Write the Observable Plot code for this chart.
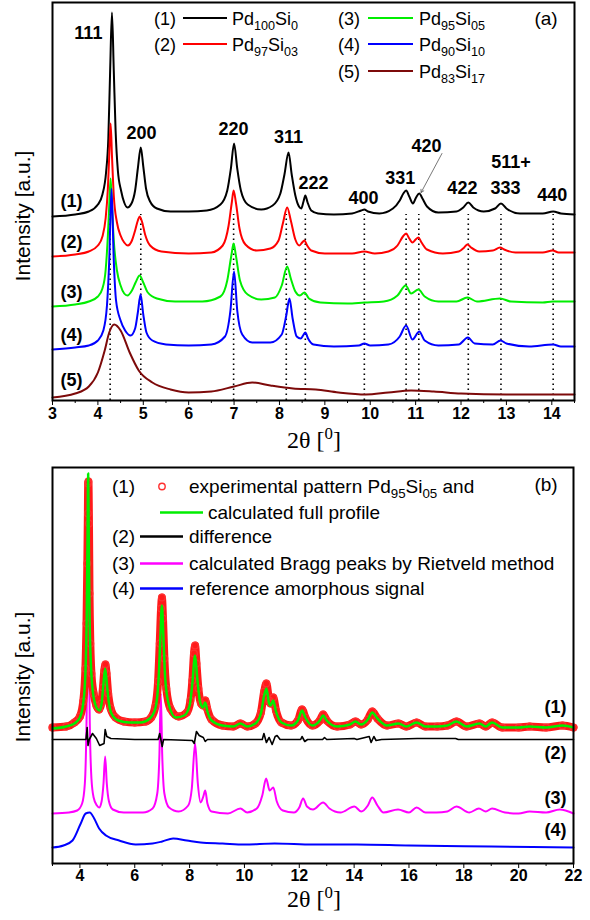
<!DOCTYPE html>
<html><head><meta charset="utf-8">
<script src="https://cdn.jsdelivr.net/npm/d3@7"></script>
<script src="https://cdn.jsdelivr.net/npm/@observablehq/plot@0.6"></script>
<style>body{margin:0;background:#fff}#wrap{width:590px}svg{display:block}</style>
</head><body><div id="wrap"></div>
<script>
// ---------- Panel (a) data: 2θ [deg], intensity [a.u.] ----------
const peakPosA = [4.27, 4.945, 6.99, 8.15, 8.57, 9.87, 10.79, 11.07, 12.16, 12.88, 14.03];
const hklA = ["111","200","220","311","222","400","331","420","422","511+","333","440"];
const majorA = [3,4,5,6,7,8,9,10,11,12,13,14];
const minorA = [3.5,4.5,5.5,6.5,7.5,8.5,9.5,10.5,11.5,12.5,13.5,14.5];
const pd100Si0 = [[3.0,184],[3.5,186],[3.8,189],[4.0,196],[4.1,206],[4.18,228],[4.23,262],[4.27,330],[4.31,388],[4.35,330],[4.39,270],[4.44,230],[4.51,210],[4.58,198],[4.65,193],[4.74,197],[4.82,210],[4.88,232],[4.945,253],[5.0,234],[5.06,212],[5.15,199],[5.3,192],[5.6,189],[6.0,189],[6.4,190],[6.7,196],[6.85,210],[6.93,232],[7.0,257],[7.07,232],[7.15,210],[7.3,196],[7.6,191],[7.85,195],[8.02,207],[8.11,226],[8.2,248],[8.27,226],[8.35,205],[8.43,194],[8.48,192],[8.53,199],[8.57,205],[8.62,198],[8.7,190],[8.85,187],[9.2,186],[9.6,187],[9.8,190],[9.87,191],[9.95,189],[10.2,187],[10.5,192],[10.65,200],[10.73,207],[10.79,210],[10.86,204],[10.94,197],[11.01,203],[11.08,207],[11.15,202],[11.25,194],[11.5,188],[11.9,189],[12.05,193],[12.16,198],[12.27,193],[12.5,189],[12.75,192],[12.88,197],[13.0,192],[13.3,187],[13.8,187],[14.03,189],[14.2,187],[14.5,186]];
const pd97Si03 = [[3.0,144],[3.5,146],[3.8,149],[4.0,155],[4.1,164],[4.17,182],[4.22,212],[4.25,245],[4.28,277],[4.31,245],[4.35,205],[4.42,178],[4.5,165],[4.58,158],[4.66,155],[4.75,160],[4.82,170],[4.88,180],[4.92,184],[4.97,179],[5.04,166],[5.15,155],[5.4,149],[6.0,147],[6.5,148],[6.75,155],[6.88,175],[6.95,198],[6.99,210],[7.04,198],[7.12,172],[7.25,156],[7.5,150],[7.8,152],[7.98,160],[8.08,178],[8.17,193],[8.25,180],[8.35,161],[8.44,155],[8.5,158],[8.55,160],[8.61,155],[8.7,150],[9.0,147],[9.6,147],[9.87,149],[10.1,147],[10.4,149],[10.6,155],[10.72,164],[10.79,167],[10.86,162],[10.93,158],[11.0,161],[11.06,163],[11.13,158],[11.25,151],[11.6,147],[11.95,149],[12.07,153],[12.14,156],[12.22,153],[12.4,149],[12.7,150],[12.86,153],[12.95,151],[13.2,148],[13.8,148],[14.02,150],[14.15,148],[14.5,148]];
const pd95Si05 = [[3.0,94],[3.5,96],[3.8,99],[4.0,104],[4.1,112],[4.17,130],[4.22,165],[4.25,195],[4.28,222],[4.31,195],[4.35,160],[4.42,130],[4.5,115],[4.58,107],[4.65,105],[4.75,110],[4.83,118],[4.92,125],[5.0,118],[5.1,108],[5.3,102],[5.7,99],[6.3,99],[6.7,104],[6.85,120],[6.94,145],[6.99,157],[7.04,145],[7.13,120],[7.3,106],[7.6,101],[7.9,103],[8.05,115],[8.17,134],[8.25,122],[8.35,109],[8.45,105],[8.55,108],[8.65,102],[8.9,98],[9.5,97],[9.87,98],[10.3,99],[10.6,105],[10.78,115],[10.9,107],[11.06,111],[11.2,104],[11.5,99],[11.9,99],[12.14,103],[12.35,99],[12.86,102],[13.1,99],[13.8,98],[14.02,99],[14.5,99]];
const pd90Si10 = [[3.0,51],[3.5,53],[3.8,55],[4.0,60],[4.12,70],[4.2,95],[4.25,140],[4.30,212],[4.35,140],[4.4,100],[4.5,80],[4.6,70],[4.72,65],[4.82,72],[4.88,88],[4.94,106],[5.0,86],[5.07,68],[5.2,60],[5.5,56],[6.0,55],[6.5,56],[6.8,64],[6.92,90],[7.0,129],[7.07,90],[7.18,66],[7.4,58],[7.8,58],[8.05,66],[8.15,85],[8.22,102],[8.29,82],[8.38,64],[8.47,62],[8.52,65],[8.57,68],[8.63,62],[8.75,56],[9.2,54],[9.75,55],[9.87,57],[10.0,55],[10.4,56],[10.65,64],[10.79,75],[10.93,61],[11.08,69],[11.2,60],[11.5,55],[11.95,56],[12.15,63],[12.3,57],[12.7,56],[12.87,60],[13.0,57],[13.5,54],[14.03,56],[14.2,54],[14.5,54]];
const pd83Si17 = [[3.0,3],[3.5,7],[3.8,14],[4.0,28],[4.15,50],[4.25,68],[4.36,76],[4.5,70],[4.7,48],[4.9,30],[5.2,18],[5.6,11],[6.0,8],[6.5,9],[7.0,14],[7.4,18],[7.8,15],[8.3,12],[8.8,11],[9.3,8],[9.9,6],[10.4,8],[10.9,10],[11.4,9],[12.0,7],[13.0,6],[14.5,6]];
const compA = [["(1)","100","0"],["(2)","97","03"],["(3)","95","05"],["(4)","90","10"],["(5)","83","17"]];

// ---------- Panel (b) data ----------
const majorB = [4,6,8,10,12,14,16,18,20,22];
const minorB = [3,5,7,9,11,13,15,17,19,21];
const calcProfile = [[3.0,135],[3.5,137],[3.8,140],[4.0,146],[4.12,160],[4.2,190],[4.25,250],[4.28,330],[4.30,390],[4.32,330],[4.35,250],[4.4,200],[4.47,172],[4.55,160],[4.65,154],[4.72,153],[4.8,162],[4.86,180],[4.92,195],[4.98,180],[5.05,162],[5.15,150],[5.4,143],[5.8,141],[6.2,141],[6.55,145],[6.75,155],[6.87,185],[6.94,230],[6.99,258],[7.04,230],[7.11,185],[7.25,158],[7.5,146],[7.8,148],[8.0,158],[8.1,180],[8.2,208],[8.28,185],[8.38,162],[8.48,156],[8.57,161],[8.65,152],[8.8,143],[9.2,138],[9.6,137],[9.85,140],[10.1,137],[10.4,140],[10.6,150],[10.72,168],[10.8,175],[10.9,160],[10.95,158],[11.05,163],[11.15,152],[11.35,141],[11.7,138],[11.95,143],[12.1,153],[12.22,146],[12.47,138],[12.75,143],[12.87,148],[13.0,143],[13.38,137],[13.85,139],[14.05,142],[14.25,139],[14.5,144],[14.66,151],[14.85,145],[15.2,138],[15.62,140],[15.9,137],[16.28,141],[16.6,137],[17.03,137],[17.4,138],[17.73,142],[18.1,137],[18.57,140],[18.8,137],[19.03,141],[19.4,136],[20.0,136],[20.4,137],[21.0,136],[21.6,138],[22.0,136]];
const expPattern = [[3.0,136],[3.5,137],[3.8,141],[4.0,147],[4.12,162],[4.2,195],[4.24,240],[4.27,300],[4.29,350],[4.30,380],[4.31,382],[4.33,340],[4.35,270],[4.38,220],[4.42,190],[4.5,170],[4.6,158],[4.7,154],[4.78,160],[4.84,176],[4.89,193],[4.93,199],[4.97,190],[5.03,170],[5.12,155],[5.3,146],[5.6,142],[6.0,141],[6.4,142],[6.6,146],[6.75,157],[6.85,182],[6.91,220],[6.96,255],[6.99,266],[7.03,245],[7.08,205],[7.15,175],[7.3,155],[7.6,147],[7.9,151],[8.03,163],[8.1,183],[8.16,210],[8.2,218],[8.25,200],[8.32,175],[8.42,160],[8.5,158],[8.57,163],[8.64,155],[8.8,144],[9.2,138],[9.6,137],[9.85,140],[10.1,137],[10.4,140],[10.6,151],[10.72,172],[10.8,180],[10.9,163],[10.95,160],[11.05,166],[11.15,153],[11.35,141],[11.7,138],[11.95,143],[12.1,154],[12.22,146],[12.47,138],[12.75,143],[12.87,149],[13.0,143],[13.38,137],[13.85,139],[14.05,142],[14.25,139],[14.5,144],[14.66,152],[14.85,145],[15.2,138],[15.62,140],[15.9,137],[16.28,141],[16.6,137],[17.03,137],[17.4,138],[17.73,142],[18.1,137],[18.57,140],[18.8,137],[19.03,141],[19.4,136],[20.0,136],[20.4,137],[21.0,136],[21.6,138],[22.0,136]];
const difference = [[3.0,124],[3.5,124],[4.0,124],[4.22,124],[4.265,136],[4.295,118],[4.34,124],[4.46,130],[4.6,125],[4.72,118],[4.88,120],[4.92,134],[4.98,127],[5.13,125],[6.0,124],[6.85,124],[6.91,130],[7.0,117],[7.05,124],[8.1,123],[8.17,120],[8.25,132],[8.35,128],[8.5,126],[8.57,122],[8.65,124],[9.9,124],[10.65,124],[10.71,130],[10.8,121],[10.9,126],[11.01,119],[11.12,127],[11.19,128],[11.3,124],[12.05,124],[12.1,127],[12.2,122],[12.3,124],[12.85,124],[12.92,126],[13.0,124],[14.0,125],[14.1,124],[14.55,127],[14.62,121],[14.72,127],[14.8,123],[15.0,124],[16.3,125],[17.7,125],[17.8,124],[19.0,124],[22.0,124]];
const braggCalc = [[3.0,50],[3.6,51],[3.9,53],[4.08,60],[4.18,80],[4.24,140],[4.28,230],[4.30,275],[4.32,230],[4.36,140],[4.42,85],[4.5,66],[4.62,58],[4.7,56],[4.79,62],[4.86,80],[4.92,107],[4.98,80],[5.06,62],[5.2,54],[5.6,51],[6.3,51],[6.65,55],[6.82,70],[6.9,110],[6.95,170],[7.0,110],[7.08,70],[7.25,56],[7.6,52],[7.95,58],[8.08,75],[8.2,120],[8.3,80],[8.4,61],[8.5,67],[8.57,73],[8.65,60],[8.8,52],[9.4,50],[9.85,55],[10.1,51],[10.45,55],[10.65,68],[10.79,85],[10.92,73],[11.05,76],[11.18,62],[11.4,53],[11.8,51],[12.0,56],[12.14,65],[12.28,57],[12.5,54],[12.87,61],[13.1,55],[13.5,51],[14.01,57],[14.26,52],[14.5,58],[14.66,66],[14.85,58],[15.07,51],[15.6,54],[16.0,51],[16.28,56],[16.6,51],[17.0,51],[17.4,52],[17.73,57],[18.2,51],[18.55,55],[18.8,52],[19.03,55],[19.5,51],[20.0,50],[20.4,52],[21.0,51],[21.5,54],[22.0,50]];
const refAmorphous = [[3.0,16],[3.4,18],[3.73,23],[4.03,40],[4.21,50],[4.36,51],[4.52,45],[4.7,35],[4.95,28],[5.43,23],[6.03,19],[6.65,20],[7.0,22],[7.4,25],[7.9,23],[8.4,21],[9.2,20],[10.0,19],[11.1,20],[12.5,19],[14.1,19],[16.0,18],[19.0,17],[22.0,16]];
const legendB = ["experimental pattern Pd|95|Si|05| and","calculated full profile","difference","calculated Bragg peaks by Rietveld method","reference amorphous signal"];

// ---------- annotation anchors ----------
const hklLabelsA = [[3.79,367],[4.96,267],[6.99,271],[8.2,263],[8.75,217],[9.85,202],[10.66,222],[11.24,254],[12.03,212],[13.1,238],[12.98,212],[14.01,205]]
  .map(([x,y],i)=>({x,y,t:hklA[i]}));
const tagsA = [[3.42,199],[3.42,158],[3.42,108],[3.42,65],[3.42,20]].map(([x,y],i)=>({x,y,t:compA[i][0]}));
const tagsB = [[21.34,156],[21.34,110],[21.34,65],[21.34,33]].map(([x,y],i)=>({x,y,t:`(${i+1})`}));
const arrow420 = [{x1:11.58,y1:247,x2:11.12,y2:208}];

const P = a => a.map(([x,y])=>({x,y}));
const FONT = "'Liberation Sans', Arial, Helvetica, sans-serif";
const SERIF = "'Liberation Serif', 'Times New Roman', serif";

const colorsA = ["#000000","#ff0000","#00ee00","#0000ff","#7d0a0a"];
const seriesA = [pd100Si0, pd97Si03, pd95Si05, pd90Si10, pd83Si17];

const plotA = Plot.plot({
  width: 590, height: 455,
  marginTop: 2, marginBottom: 55, marginLeft: 52, marginRight: 16,
  style: {fontFamily: FONT, color: "#000", background: "#fff"},
  x: {domain: [3, 14.5], label: null},
  y: {domain: [0, 398], axis: null},
  marks: [
    Plot.ruleX(peakPosA, {y1: 0, y2: 186, stroke: "#000", strokeWidth: 1.6, strokeDasharray: "1.6,3.4"}),
    ...seriesA.map((s,i)=>Plot.line(P(s), {x:"x", y:"y", stroke: colorsA[i], strokeWidth: 2, curve: "monotone-x"})),
    Plot.text(hklLabelsA, {x:"x", y:"y", text:"t", fontSize: 18, fontWeight: "bold", fill: "#000"}),
    Plot.arrow(arrow420, {x1:"x1", y1:"y1", x2:"x2", y2:"y2", stroke:"#555", strokeWidth: 0.8, headLength: 6}),
    Plot.text(tagsA, {x:"x", y:"y", text:"t", fontSize: 18, fontWeight: "bold", fill: "#000"}),
    Plot.frame({stroke: "#000", strokeWidth: 2}),
    Plot.axisX({ticks: majorA, tickSize: 5, tickPadding: 2, fontSize: 16, fontWeight: "bold", tickFormat: d => String(d)}),
    Plot.axisX({ticks: minorA, tickSize: 3, tickFormat: () => ""})
  ]
});

const plotB = Plot.plot({
  width: 590, height: 465,
  marginTop: 12, marginBottom: 57, marginLeft: 52, marginRight: 17,
  style: {fontFamily: FONT, color: "#000", background: "#fff"},
  x: {domain: [3, 22], label: null},
  y: {domain: [0, 396], axis: null},
  marks: [
    Plot.line(P(refAmorphous), {x:"x", y:"y", stroke:"#0000ff", strokeWidth: 2, curve:"monotone-x"}),
    Plot.line(P(braggCalc), {x:"x", y:"y", stroke:"#ff00ff", strokeWidth: 2, curve:"monotone-x"}),
    Plot.line(P(difference), {x:"x", y:"y", stroke:"#000", strokeWidth: 1.6, curve:"linear"}),
    Plot.line(P(expPattern), {x:"x", y:"y", stroke:"#ff1a1a", strokeWidth: 8, curve:"monotone-x"}),
    Plot.dot(P(expPattern), {x:"x", y:"y", r: 3.3, stroke:"#ff3030", strokeWidth: 1.3, fill: "none"}),
    Plot.line(P(calcProfile), {x:"x", y:"y", stroke:"#00ee00", strokeWidth: 2.5, curve:"monotone-x"}),
    Plot.text(tagsB, {x:"x", y:"y", text:"t", fontSize: 18, fontWeight: "bold", fill: "#000"}),
    Plot.frame({stroke: "#000", strokeWidth: 2}),
    Plot.axisX({ticks: majorB, tickSize: 5, tickPadding: 1, fontSize: 16, fontWeight: "bold", tickFormat: d => String(d)}),
    Plot.axisX({ticks: minorB, tickSize: 3, tickFormat: () => ""})
  ]
});

const wrap = document.getElementById("wrap");
wrap.appendChild(plotA);
wrap.appendChild(plotB);

function rich(svg, x, y, str, size, opts = {}) {
  const t = svg.append("text").attr("x", x).attr("y", y)
    .attr("font-family", opts.family || FONT).attr("font-size", size).attr("fill", "#000")
    .attr("text-anchor", opts.anchor || "start");
  if (opts.transform) t.attr("transform", opts.transform);
  const parts = str.split("|");
  let shift = 0;
  parts.forEach((p, i) => {
    const sub = i % 2 === 1;
    const target = sub ? (opts.sup ? -9 : 5) : 0;
    t.append("tspan").attr("dy", target - shift).attr("font-size", sub ? size * 0.7 : size).text(p);
    shift = target;
  });
  return t;
}

// Legend (a)
const sa = d3.select(plotA);
const rowsA = [[165,183,227,232,25],[165,183,227,232,51],[349,368,413,419,25],[349,368,413,419,51],[349,368,413,419,78]];
compA.forEach((c, i) => {
  const [tx, l1, l2, px, by] = rowsA[i];
  sa.append("text").attr("x", tx).attr("y", by).attr("text-anchor","middle").attr("font-family",FONT).attr("font-size",18).text(c[0]);
  sa.append("line").attr("x1", l1).attr("x2", l2).attr("y1", by-7).attr("y2", by-7).attr("stroke", colorsA[i]).attr("stroke-width", 2);
  rich(sa, px, by, `Pd|${c[1]}|Si|${c[2]}`, 18);
});
sa.append("text").attr("x",546).attr("y",25).attr("font-family",FONT).attr("font-size",19).text("(a)");
rich(sa, 30, 216, "Intensity [a.u.]", 21, {anchor:"middle", transform:"rotate(-90,30,216)"});
rich(sa, 287, 448, "2θ [|0|]", 24, {family: SERIF, sup: true});

// Legend (b)
const sb = d3.select(plotB);
const oy = 455;
const baseB = [493, 519, 543, 570, 595].map(v => v - oy);
const tagB = ["(1)", null, "(2)", "(3)", "(4)"];
const colB = [null, "#00ee00", "#000", "#ff00ff", "#0000ff"];
legendB.forEach((txt, i) => {
  const by = baseB[i];
  if (tagB[i]) sb.append("text").attr("x",123.5).attr("y",by).attr("text-anchor","middle").attr("font-family",FONT).attr("font-size",19).text(tagB[i]);
  if (i === 0) {
    sb.append("circle").attr("cx",162).attr("cy",by-6.5).attr("r",3.2).attr("fill","none").attr("stroke","#ff3030").attr("stroke-width",1.4);
    rich(sb, 189, by, txt, 19);
  } else if (i === 1) {
    sb.append("line").attr("x1",160).attr("x2",203).attr("y1",by-6.5).attr("y2",by-6.5).attr("stroke",colB[i]).attr("stroke-width",2.5);
    rich(sb, 208, by, txt, 19);
  } else {
    sb.append("line").attr("x1",140).attr("x2",183).attr("y1",by-6.5).attr("y2",by-6.5).attr("stroke",colB[i]).attr("stroke-width",2.5);
    rich(sb, 189, by, txt, 19);
  }
});
sb.append("text").attr("x",546).attr("y",491-oy).attr("font-family",FONT).attr("font-size",19).text("(b)");
rich(sb, 30, 677-oy, "Intensity [a.u.]", 21, {anchor:"middle", transform:`rotate(-90,30,${677-oy})`});
rich(sb, 287, 907-oy, "2θ [|0|]", 24, {family: SERIF, sup: true});
</script></body></html>
